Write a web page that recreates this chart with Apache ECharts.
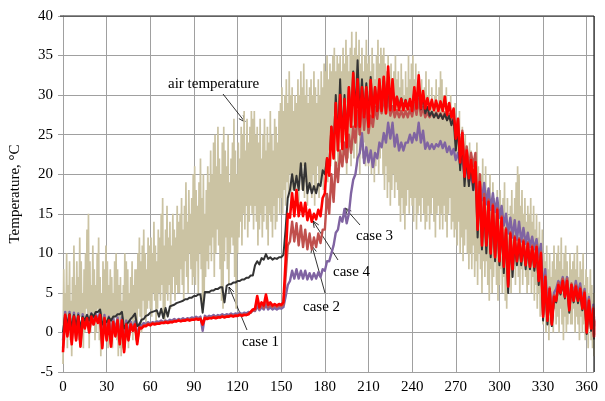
<!DOCTYPE html>
<html>
<head>
<meta charset="utf-8">
<script src="https://cdn.jsdelivr.net/npm/echarts@6/dist/echarts.min.js"></script>
<style>
html, body { margin: 0; padding: 0; background: #fff; }
#chart { width: 605px; height: 401px; }
</style>
</head>
<body>
<div id="chart"></div>
<script>
// daily air temperature, max and min of each day (day 0 .. 365)
var airHi = [
  8,5,10,6,9,4,7,11,6,9, 7,12,9,5,8,10,13,15,9,6, 11,8,6,10,12,7,5,9,8,11,
  9,6,8,7,5,9,10,8,6,7, 4,6,10,9,8,5,7,9,6,8, 8,10,12,9,11,13,10,8,12,11,
  12,10,14,11,9,13,12,15,17,11, 13,16,12,14,11,15,13,12,16,14, 15,17,13,16,19,14,18,15,17,20,
  21,18,16,19,22,17,20,15,18,21, 19,23,20,24,25,21,26,22,20,24, 26,23,21,25,19,22,24,27,23,20,
  24,22,26,25,28,23,27,24,26,28, 27,28,25,26,24,27,22,25,27,23, 26,24,28,25,23,27,26,24,28,29,
  31,28,30,32,29,33,30,31,28,30, 29,32,30,33,31,34,30,32,29,31, 32,30,33,31,29,32,30,33,31,34,
  33,35,32,34,33,35,36,33,35,34, 35,33,36,34,37,35,33,36,38,35, 36,38,35,37,34,36,33,35,37,34,
  35,33,36,34,32,35,37,34,36,35, 36,34,33,35,32,34,31,33,35,32, 33,31,34,32,30,33,31,35,32,34,
  35,32,34,31,33,30,32,29,31,33, 30,32,29,31,28,30,32,29,31,33, 32,30,28,31,29,27,30,28,26,29,
  27,25,28,24,26,22,25,23,21,24, 23,20,22,19,24,21,18,20,22,19, 21,18,17,20,16,19,17,15,18,16,
  18,16,17,19,15,17,14,16,18,15, 17,19,21,20,16,18,15,17,14,16, 15,17,14,16,13,15,12,14,11,13,
  10,9,11,8,10,7,9,11,8,10, 11,9,12,8,10,11,9,7,10,8, 9,10,8,11,7,9,8,10,6,8,
  7,5,8,6,4,5
];
var airLo = [
  -4,-1,0,-2,1,-1,-3,0,2,-1, 0,-1,2,1,-2,0,3,1,-2,0, 1,2,-1,0,3,-1,-3,-2,0,2,
  0,-2,1,-1,-2,0,2,-1,-3,-2, -3,-2,0,1,-1,-2,0,2,-1,0, -1,1,3,2,0,4,2,1,3,4,
  3,2,5,4,1,3,5,4,6,2, 1,5,4,6,3,5,7,4,6,5, 5,8,6,4,9,7,5,10,8,6,
  7,6,9,5,10,8,3,4,7,9, 8,11,9,12,7,10,13,11,8,4, 3,9,12,8,6,10,12,11,7,3,
  10,12,14,11,15,13,16,12,14,16, 15,13,16,14,11,13,15,12,14,16, 13,11,15,14,12,16,13,14,17,15,
  17,15,18,16,19,17,20,16,18,19, 17,19,16,20,18,21,17,19,16,18, 19,17,20,16,18,21,17,19,20,18,
  20,22,19,23,21,24,22,20,23,21, 22,24,21,23,25,20,22,24,21,23, 22,24,21,25,20,23,22,24,21,23,
  21,23,20,22,19,21,23,20,22,24, 20,18,21,17,19,16,18,20,17,19, 18,16,14,17,15,13,16,18,15,17,
  16,14,17,13,15,16,14,17,15,13, 14,16,13,15,17,14,12,15,16,13, 15,13,16,14,12,15,17,13,14,12,
  13,11,14,10,12,9,11,13,10,8, 10,8,11,7,9,6,10,8,5,9, 7,9,6,4,8,5,7,9,6,4,
  6,8,5,7,4,3,6,8,5,7, 8,6,9,7,5,8,6,9,7,5, 6,8,5,7,4,6,3,5,2,4,
  1,3,0,2,-1,1,2,0,3,1, 2,0,3,1,-1,2,0,1,3,1, 1,3,0,2,1,-1,2,0,1,-1,
  0,-2,1,-1,-2,-3
];

// case temperatures, sampled every 3 days (0, 3, ... 363) plus day 365: daily low / daily high
var caseDays = [];
for (var d = 0; d <= 363; d += 3) caseDays.push(d);
caseDays.push(365);

var case1Lo = [
  0.0,1.0,0.5,0.8,0.5,1.5,1.5,2.0,2.6,1.0, 1.3,1.5,2.0,2.3,0.5,1.3,2.0,0.8,1.6,2.1,
  2.5,2.7,2.0,1.8,2.0,3.4,3.7,3.9,4.2,4.4, 4.6,4.8,2.5,5.1,5.3,5.5,5.7,3.8,6.1,6.3,
  6.5,6.7,6.9,7.2,8.5,8.6,9.2,9.3,9.2,9.3, 9.5,13.0,18.0,18.0,18.0,18.0,17.6,17.6,17.6,18.5,
  20.0,21.0,23.0,24.0,24.0,24.5,26.5,27.5,27.0,27.5, 27.0,27.5,28.0,28.5,28.2,28.3,28.4,28.5,28.4,28.3,
  28.2,28.5,28.2,27.7,27.4,27.2,27.1,27.0,26.8,26.2, 23.0,20.5,18.5,18.5,18.0,12.0,10.5,10.0,9.5,9.0,
  8.5,7.5,5.0,7.0,8.5,8.5,8.0,8.0,7.8,6.0, 1.5,1.0,0.8,3.8,4.8,4.3,2.5,3.8,3.7,2.8,
  -0.2,0.2,-0.8
];
var case1Hi = [
  2.2,2.3,2.2,2.2,2.0,2.2,2.4,2.6,2.9,1.5, 1.9,2.0,2.3,2.6,1.0,1.7,2.4,1.0,1.7,2.2,
  2.6,2.8,3.0,3.1,3.3,3.5,3.8,4.0,4.2,4.4, 4.6,4.8,5.1,5.1,5.3,5.5,5.7,5.9,6.1,6.3,
  6.5,6.7,6.9,7.2,9.0,9.4,9.9,9.5,9.4,9.5, 9.8,17.0,20.0,19.8,21.4,21.4,18.9,18.5,18.8,20.5,
  22.0,26.0,30.0,32.0,30.0,31.0,33.0,34.4,32.0,31.5, 32.3,31.0,31.5,32.3,32.0,31.0,29.8,29.6,29.4,29.3,
  30.5,31.5,30.0,28.5,27.9,27.7,27.6,27.6,27.4,27.0, 26.0,24.5,22.5,21.5,21.0,18.5,16.5,16.0,15.5,15.0,
  14.0,12.8,12.3,11.8,11.5,11.2,11.0,10.6,10.5,9.8, 6.5,5.0,4.2,5.8,6.2,6.2,5.7,5.5,5.2,4.7,
  3.8,2.8,1.2
];
var case2Lo = [
  -2.0,-0.3,-1.2,-0.8,-1.5,0.6,0.1,1.1,1.3,-1.7, -0.8,-1.5,-0.3,-1.2,-2.2,-0.8,0.3,-1.2,0.6,0.9,
  1.0,1.1,1.1,1.2,1.3,1.3,1.4,1.5,1.5,1.6, 1.6,1.7,1.1,1.8,1.8,1.9,1.9,2.0,2.0,2.1,
  2.1,2.2,2.2,2.5,2.8,3.0,3.1,3.2,3.2,3.2, 3.3,7.0,11.5,11.5,11.0,10.8,10.5,10.5,10.8,11.3,
  13.0,15.0,16.5,19.0,21.0,21.5,22.7,24.0,25.0,25.6, 25.2,26.0,27.0,27.7,27.7,27.4,27.2,27.2,27.2,27.2,
  27.3,27.5,27.4,27.2,27.2,27.2,27.1,27.0,26.9,26.5, 25.0,22.5,21.5,21.0,21.0,15.0,12.0,11.2,10.2,9.7,
  9.2,8.5,6.0,8.2,9.2,9.2,8.7,8.5,8.5,6.7, 2.2,1.7,1.2,4.2,5.2,4.7,3.0,4.2,4.2,3.2,
  0.2,0.7,-0.3
];
var case2Hi = [
  2.3,2.3,2.1,2.1,1.9,1.9,2.1,2.1,2.3,1.9, 1.6,1.4,1.6,1.6,1.1,1.1,1.1,0.7,0.9,1.1,
  1.2,1.2,1.3,1.4,1.4,1.5,1.6,1.6,1.7,1.7, 1.8,1.8,1.9,1.9,2.0,2.0,2.1,2.1,2.2,2.2,
  2.3,2.3,2.4,2.8,4.2,3.5,4.4,3.5,3.4,3.4, 3.5,11.0,14.0,13.8,13.5,13.0,12.5,12.0,12.5,13.0,
  17.5,20.0,21.5,23.0,24.0,25.0,26.0,28.0,29.4,29.0, 27.4,28.5,29.5,29.8,29.8,28.6,28.1,28.0,28.0,28.2,
  29.0,29.5,28.5,27.8,27.8,27.8,27.7,27.8,27.6,27.3, 27.0,25.5,23.5,22.7,22.7,20.0,17.5,16.8,16.2,15.7,
  14.7,13.2,12.7,12.2,11.9,11.7,11.4,11.0,11.0,10.2, 7.2,5.7,4.7,6.3,6.8,6.8,6.2,6.0,5.7,5.2,
  4.2,3.2,1.7
];
var case3Lo = [
  -1.0,0.5,-0.5,0.0,-0.8,1.0,0.5,1.3,1.5,-1.0, -0.3,-1.0,0.2,-0.8,-1.8,-0.3,0.5,-0.8,0.8,1.0,
  1.1,1.2,1.3,1.3,1.4,1.5,1.5,1.6,1.6,1.7, 1.8,1.8,0.2,1.9,2.0,2.0,2.1,2.1,2.2,2.2,
  2.3,2.3,2.4,2.5,2.7,2.8,2.9,2.9,2.9,2.9, 3.0,4.5,6.5,6.8,6.8,6.8,6.7,6.7,6.8,7.0,
  7.8,9.0,11.0,13.0,14.0,13.8,17.6,20.0,22.7,21.4, 21.5,20.9,22.0,23.4,24.0,24.5,23.5,23.0,23.0,24.0,
  24.0,24.3,24.0,23.2,23.2,23.2,23.5,23.3,22.8,22.5, 21.8,21.2,19.7,19.0,18.0,17.5,16.7,16.2,15.5,15.2,
  14.5,13.5,12.5,12.0,11.7,11.5,11.2,10.8,10.5,9.5, 5.0,3.5,3.0,5.5,6.0,5.5,4.0,5.0,5.0,4.0,
  2.5,1.5,0.8
];
var case3Hi = [
  2.6,2.6,2.5,2.4,2.3,2.2,2.4,2.4,2.6,2.2, 2.0,1.8,1.9,1.9,1.5,1.4,1.4,1.1,1.2,1.3,
  1.3,1.4,1.5,1.5,1.6,1.7,1.7,1.8,1.8,1.9, 2.0,2.0,2.1,2.1,2.2,2.2,2.3,2.3,2.4,2.4,
  2.5,2.5,2.6,2.8,3.3,3.2,3.5,3.2,3.1,3.1, 3.2,6.0,7.8,8.0,7.8,7.8,7.5,7.5,7.6,8.0,
  9.0,10.0,12.6,14.6,15.6,15.0,19.3,22.0,25.2,23.4, 23.0,22.7,24.0,25.2,26.5,26.5,25.0,24.0,24.0,25.0,
  25.2,26.5,25.5,24.0,23.8,23.8,24.2,24.0,23.5,23.2, 22.7,22.2,21.0,20.0,19.5,19.0,18.9,18.2,17.6,17.0,
  16.0,15.0,14.5,14.2,14.0,13.2,12.6,12.1,11.8,11.2, 8.0,5.5,5.0,6.5,7.0,7.0,6.0,6.5,6.2,5.5,
  4.5,3.5,2.0
];
var case4Lo = [
  -2.5,-0.5,-1.5,-1.0,-1.8,0.5,0.0,1.0,1.2,-2.0, -1.0,-1.8,-0.5,-1.5,-2.5,-1.0,0.2,-1.5,0.5,0.8,
  0.9,1.0,1.1,1.2,1.2,1.3,1.4,1.4,1.5,1.5, 1.6,1.6,1.0,1.7,1.8,1.8,1.9,1.9,2.0,2.0,
  2.1,2.1,2.2,2.6,3.0,3.2,3.4,3.5,3.4,3.4, 3.5,9.0,14.5,14.7,14.7,14.7,14.2,14.0,14.3,14.7,
  17.6,19.8,22.0,23.0,23.2,23.4,26.0,26.0,26.0,27.2, 26.0,27.2,28.0,28.0,27.7,28.1,28.1,28.1,28.1,28.2,
  28.0,28.3,28.3,28.3,28.2,28.1,28.0,28.0,27.5,27.2, 24.5,21.5,19.7,19.5,19.0,13.0,11.0,11.0,10.0,9.5,
  9.0,8.3,5.8,8.0,9.0,9.0,8.5,8.3,8.3,6.5, 2.0,1.5,1.0,4.0,5.0,4.5,2.8,4.0,4.0,3.0,
  0.0,0.5,-0.5
];
var case4Hi = [
  2.2,2.2,2.0,2.0,1.8,1.8,2.0,2.0,2.2,1.8, 1.5,1.3,1.5,1.5,1.0,1.0,1.0,0.6,0.8,1.0,
  1.1,1.1,1.2,1.3,1.3,1.4,1.5,1.5,1.6,1.6, 1.7,1.7,1.8,1.8,1.9,1.9,2.0,2.0,2.1,2.1,
  2.2,2.2,2.3,2.9,4.6,3.8,4.8,3.8,3.6,3.6, 3.8,15.0,17.6,18.0,16.4,16.4,15.5,15.0,15.5,17.0,
  22.0,26.0,29.0,30.0,29.5,31.0,32.8,32.0,31.0,31.0, 31.9,31.0,32.0,32.3,33.6,32.0,29.8,29.5,29.3,29.5,
  31.0,32.5,30.5,29.6,29.4,29.3,29.2,29.8,29.0,28.3, 27.0,25.2,23.0,21.8,21.5,19.0,17.0,16.5,16.0,15.5,
  14.5,13.0,12.5,12.0,11.7,11.5,11.2,10.8,10.8,10.0, 7.0,5.5,4.5,6.0,6.5,6.5,6.0,5.8,5.5,5.0,
  4.0,3.0,1.5
];

var serif = '"Liberation Serif", "Times New Roman", serif';

// air temperature drawn as a zigzag: low then high of each day
var airLine = [];
for (var i = 0; i < airHi.length; i++) {
  airLine.push([i, airLo[i]]);
  airLine.push([Math.min(i + 0.5, 365), airHi[i]]);
}

// a case drawn as a zigzag between its daily low and daily high
function caseSeries(name, lo, hi, color, width) {
  var pts = [];
  for (var k = 0; k < caseDays.length; k++) {
    pts.push([caseDays[k], lo[k]]);
    pts.push([Math.min(caseDays[k] + 1.5, 365), hi[k]]);
  }
  return {
    name: name, type: 'line', data: pts, showSymbol: false, symbol: 'none', silent: true,
    lineStyle: { color: color, width: width, join: 'round' }
  };
}

// label text with an arrow pointing at a curve
function note(text, tx, ty, x1, y1, x2, y2) {
  var a = Math.atan2(y2 - y1, x2 - x1);
  var h = 7;
  return [
    { type: 'text', x: tx, y: ty, style: { text: text, fill: '#000', font: '15px ' + serif, verticalAlign: 'middle' } },
    { type: 'line', shape: { x1: x1, y1: y1, x2: x2, y2: y2 }, style: { stroke: '#000', lineWidth: 0.8 } },
    { type: 'polyline', shape: { points: [
        [x2 - h * Math.cos(a - 0.4), y2 - h * Math.sin(a - 0.4)], [x2, y2],
        [x2 - h * Math.cos(a + 0.4), y2 - h * Math.sin(a + 0.4)]] },
      style: { stroke: '#000', lineWidth: 0.8, fill: null } }
  ];
}

var gLeft = 60, gRight = 11, gTop = 16, gBottom = 29;

var chart = echarts.init(document.getElementById('chart'));
var option = {
  animation: false,
  backgroundColor: '#fff',
  grid: { left: gLeft, right: gRight, top: gTop, bottom: gBottom },
  xAxis: {
    type: 'value', min: 0, max: 365, interval: 30,
    axisLine: { show: true, lineStyle: { color: '#a0a0a0', width: 1 } },
    axisTick: { show: false },
    axisLabel: {
      color: '#000', fontFamily: serif, fontSize: 15, margin: 8,
      formatter: function (v) { return v % 30 === 0 ? String(v) : ''; }
    },
    splitLine: { show: true, lineStyle: { color: '#a0a0a0', width: 1 } }
  },
  yAxis: {
    type: 'value', min: -5, max: 40, interval: 5,
    name: 'Temperature, °C', nameLocation: 'middle', nameGap: 40,
    nameTextStyle: { color: '#000', fontFamily: serif, fontSize: 15 },
    axisLine: { show: true, lineStyle: { color: '#a0a0a0', width: 1 } },
    axisTick: { show: true, inside: false, length: 5, lineStyle: { color: '#a0a0a0' } },
    axisLabel: { color: '#000', fontFamily: serif, fontSize: 15, margin: 10 },
    splitLine: { show: true, lineStyle: { color: '#a0a0a0', width: 1 } }
  },
  series: [
    {
      name: 'air temperature', type: 'line', data: airLine, showSymbol: false, symbol: 'none',
      lineStyle: { color: '#cbc3a3', width: 1.7 }, silent: true
    },
    caseSeries('case 3', case3Lo, case3Hi, '#8064a2', 2.4),
    caseSeries('case 2', case2Lo, case2Hi, '#c0504d', 2.4),
    caseSeries('case 1', case1Lo, case1Hi, '#333333', 2),
    caseSeries('case 4', case4Lo, case4Hi, '#ff0000', 2.6)
  ]
};
chart.setOption(option);

var W = chart.getWidth(), H = chart.getHeight();
var gx2 = W - gRight, gy2 = H - gBottom;
var els = [
  { type: 'line', z: 100, shape: { x1: gLeft, y1: gTop, x2: gx2, y2: gTop }, style: { stroke: '#222', lineWidth: 1.2 } },
  { type: 'line', z: 100, shape: { x1: gx2, y1: gTop, x2: gx2, y2: gy2 }, style: { stroke: '#222', lineWidth: 1.2 } }
];
els = els.concat(
  note('air temperature', 168, 84, 223, 94, 245, 122),
  note('case 1', 242, 342, 247, 330, 229, 287),
  note('case 2', 303, 307, 325, 293, 312, 246),
  note('case 4', 333, 272, 338, 260, 313, 221),
  note('case 3', 356, 236, 360, 225, 345, 208)
);
chart.setOption({ graphic: { elements: els } });
</script>
</body>
</html>
